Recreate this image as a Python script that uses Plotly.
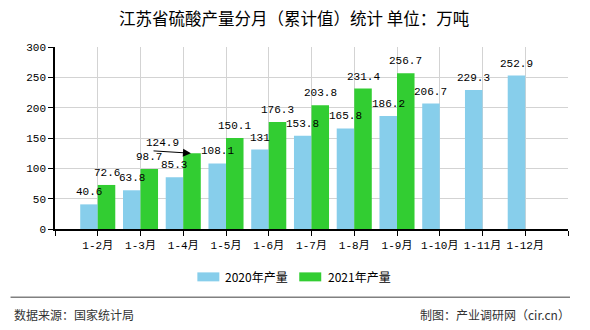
import plotly.graph_objects as go

categories = ["1-2月", "1-3月", "1-4月", "1-5月", "1-6月", "1-7月", "1-8月", "1-9月", "1-10月", "1-11月", "1-12月"]
v2020 = [40.6, 63.8, 85.3, 108.1, 131, 153.8, 165.8, 186.2, 206.7, 229.3, 252.9]
v2021 = [72.6, 98.7, 124.9, 150.1, 176.3, 203.8, 231.4, 256.7]
names = ["2020年产量", "2021年产量"]
colors = ["#87CEEB", "#32CD32"]
yticks = [0, 50, 100, 150, 200, 250, 300]
title = "江苏省硫酸产量分月（累计值）统计 单位：万吨"
source_text = "数据来源：国家统计局"
credit_text = "制图：产业调研网（cir.cn）"

W, H = 590, 330
L, R, T, B = 54.5, 568, 46.5, 229

def px(x):
    return (x - L) / (R - L)

def py(y):
    return (B - y) / (B - T)

def fmt(v):
    return f"{v:g}"

mono = "Liberation Mono, Noto Sans CJK SC, monospace"
cjk = "Noto Sans CJK SC, sans-serif"

xs = list(range(len(categories)))
callout_idx = 2
bargap = 0.18
half = (1 - bargap) / 4  # offset of each bar centre from the category centre

fig = go.Figure()
fig.add_trace(go.Bar(x=xs, y=v2020, name=names[0], marker_color=colors[0], marker_line_width=0))
fig.add_trace(go.Bar(x=xs[:len(v2021)], y=v2021, name=names[1], marker_color=colors[1], marker_line_width=0))

annotations = []
lab_font = dict(family=mono, size=11, color="#000")
for i, v in enumerate(v2020):
    annotations.append(dict(x=i - half, y=v, xref="x", yref="y", text=fmt(v), showarrow=False,
                            yanchor="middle", yshift=12, font=lab_font))
for i, v in enumerate(v2021):
    if i == callout_idx:
        continue
    annotations.append(dict(x=i + half, y=v, xref="x", yref="y", text=fmt(v), showarrow=False,
                            yanchor="middle", yshift=12, font=lab_font))

# callout label with arrow for 1-4月 2021
cv = v2021[callout_idx]
annotations.append(dict(x=callout_idx + 0.18, y=cv, ax=callout_idx - 0.73, ay=cv + 4,
                        xref="x", yref="y", axref="x", ayref="y", text="", showarrow=True,
                        arrowhead=2, arrowsize=1.6, arrowwidth=1, arrowcolor="#000", standoff=0, startstandoff=0))
annotations.append(dict(x=callout_idx - 0.49, y=cv + 4, xref="x", yref="y", text=fmt(cv),
                        showarrow=False, yanchor="middle", yshift=8, font=lab_font))

# title
annotations.append(dict(x=px(293.5), y=py(17), xref="paper", yref="paper", text=title, showarrow=False,
                        font=dict(family=cjk, size=16.5, color="#000"), xanchor="center", yanchor="middle"))
# legend (manual)
shapes = []
leg = [(197, 219, 223), (299, 321, 326)]
for (x0, x1, tx), nm, c in zip(leg, names, colors):
    shapes.append(dict(type="rect", xref="paper", yref="paper", x0=px(x0), x1=px(x1), y0=py(281.5), y1=py(272.5),
                       fillcolor=c, line_width=0, layer="above"))
    annotations.append(dict(x=px(tx), y=py(277), xref="paper", yref="paper", text=nm, showarrow=False,
                            xanchor="left", yanchor="middle", font=dict(family=cjk, size=12, color="#000")))
# separator
shapes.append(dict(type="line", xref="paper", yref="paper", x0=px(10), x1=px(570), y0=py(297.5), y1=py(297.5),
                   line=dict(color="#808080", width=1.5)))
annotations.append(dict(x=px(11), y=py(315), xref="paper", yref="paper", text=source_text, showarrow=False,
                        xanchor="left", yanchor="middle", font=dict(family=cjk, size=12, color="#333")))
annotations.append(dict(x=px(572), y=py(315), xref="paper", yref="paper", text=credit_text, showarrow=False,
                        xanchor="right", yanchor="middle", font=dict(family=cjk, size=12, color="#333")))

tickvals = list(range(-1, len(categories) + 1))
ticktext = [""] + categories + [""]

fig.update_layout(
    width=W, height=H, margin=dict(l=L, r=W - R, t=T, b=H - B),
    paper_bgcolor="white", plot_bgcolor="white",
    barmode="group", bargap=bargap, bargroupgap=0,
    showlegend=False,
    annotations=annotations, shapes=shapes,
    xaxis=dict(range=[-1, len(categories)], tickvals=tickvals, ticktext=ticktext,
               showgrid=True, gridcolor="#d3d3d3", gridwidth=1,
               showline=True, linecolor="#000", linewidth=1.5,
               ticks="outside", ticklen=5, tickcolor="#000",
               tickfont=dict(family=mono, size=11, color="#000"), zeroline=False, fixedrange=True),
    yaxis=dict(range=[0, 300], tickvals=yticks, showgrid=True, gridcolor="#d3d3d3", gridwidth=1,
               showline=True, linecolor="#000", linewidth=1.5,
               ticks="outside", ticklen=5, tickcolor="#000",
               tickfont=dict(family=mono, size=11, color="#000"), zeroline=False, fixedrange=True),
)

fig.write_html("out.html")
